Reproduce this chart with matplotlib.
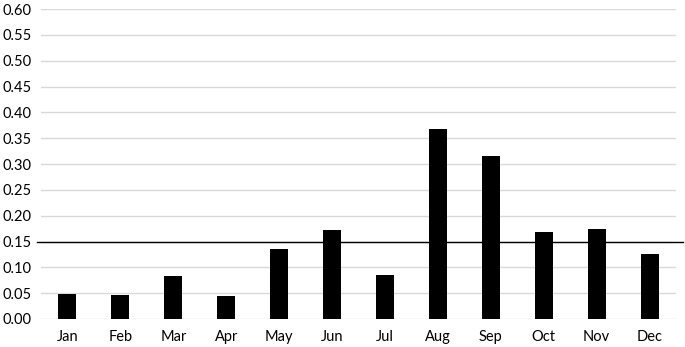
import matplotlib
matplotlib.use("Agg")
import matplotlib.pyplot as plt
import numpy as np

months = ['Jan', 'Feb', 'Mar', 'Apr', 'May', 'Jun',
          'Jul', 'Aug', 'Sep', 'Oct', 'Nov', 'Dec']
values = [0.048, 0.046, 0.083, 0.044, 0.135, 0.172,
          0.085, 0.367, 0.315, 0.168, 0.174, 0.126]
threshold = 0.15
yticks = np.arange(0, 0.601, 0.05)

plt.rcParams['font.family'] = ['Lato', 'DejaVu Sans']

fig = plt.figure(figsize=(6.85, 3.47), dpi=100)
ax = fig.add_axes([0.0599, 0.0807, 0.927, 0.8933])

x = np.arange(len(months))
ax.bar(x, values, width=0.34, color='black', zorder=3)

ax.set_xlim(-0.5, len(months) - 0.5)
ax.set_ylim(0, 0.6)
ax.set_yticks(yticks)
ax.set_yticklabels(['%.2f' % t for t in yticks])
ax.set_xticks(x)
ax.set_xticklabels(months)

ax.grid(axis='y', color='#d9d9d9', linewidth=1, zorder=0)
ax.set_axisbelow(True)
for s in ax.spines.values():
    s.set_visible(False)
ax.tick_params(axis='both', length=0, labelsize=10.5, colors='#000000')
ax.tick_params(axis='y', pad=7)
ax.tick_params(axis='x', pad=8)

ax.axhline(threshold, xmin=-0.0063, xmax=1.011, color='black',
           linewidth=1, clip_on=False, zorder=4)

fig.savefig("out.png", dpi=100)
